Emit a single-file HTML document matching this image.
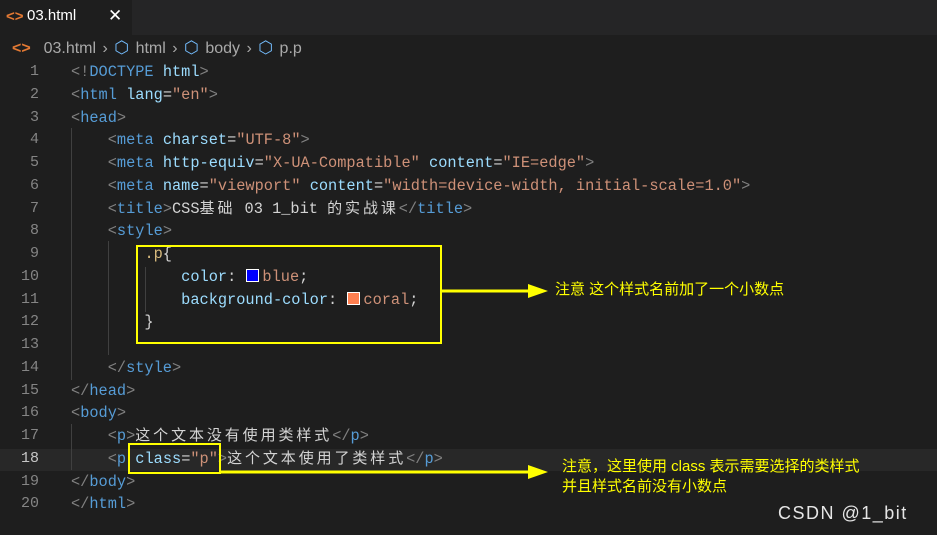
<!DOCTYPE html>
<html><head><meta charset="utf-8"><style>
body{margin:0;width:937px;height:535px;background:#1e1e1e;overflow:hidden;position:relative;font-family:"Liberation Mono","Noto Sans CJK SC",monospace;}
.tabbar{position:absolute;left:0;top:0;width:937px;height:35px;background:#252526}
.tab{position:absolute;left:0;top:0;width:132px;height:35px;background:#1e1e1e;font-family:"Liberation Sans",sans-serif;font-size:15px;color:#fff}
.crumb{position:absolute;left:12px;top:38px;font-family:"Liberation Sans",sans-serif;font-size:16px;color:#a9a9a9;line-height:20px;white-space:pre;word-spacing:2px}
.ln{position:absolute;left:0;width:39px;text-align:right;font-size:15px;color:#858585;line-height:22px}
.c{position:absolute;left:71px;font-size:15.3px;line-height:22px;white-space:pre;color:#d4d4d4}
.z{font-size:15px;letter-spacing:2.9px}
.t{color:#808080}.n{color:#569cd6}.a{color:#9cdcfe}.s{color:#ce9178}.w{color:#d4d4d4}.k{color:#d7ba7d}
.g{position:absolute;width:1px;background:#404040}
.y{position:absolute;border:2px solid #ffff00;box-sizing:border-box}
.note{position:absolute;color:#ffff00;font-family:"Liberation Sans","Noto Sans CJK SC",sans-serif;font-size:15px;line-height:20px;white-space:pre}
.sw{display:inline-block;width:11px;height:11px;border:1px solid #fff;vertical-align:-1px;margin:0 3px 0 1px}
.ic{color:#75beff;font-size:17px}
</style></head><body>
<div class="tabbar"><div class="tab"><span style="position:absolute;left:6px;top:8px;color:#e37933;font-weight:bold">&lt;&gt;</span><span style="position:absolute;left:27px;top:7px">03.html</span><span style="position:absolute;left:108px;top:6px;font-size:17px">✕</span></div></div>
<div class="crumb"><span style="color:#e37933;font-weight:bold">&lt;&gt;</span>  03.html <span>›</span> <span class="ic">⬡</span> html <span>›</span> <span class="ic">⬡</span> body <span>›</span> <span class="ic">⬡</span> p.p</div>
<div style="position:absolute;left:0;top:449px;width:937px;height:22px;background:#282828"></div>
<div class="g" style="left:71px;top:128px;height:252px"></div>
<div class="g" style="left:108px;top:241px;height:114px"></div>
<div class="g" style="left:145px;top:267px;height:45px"></div>
<div class="g" style="left:71px;top:424px;height:46px"></div>
<div class="ln" style="top:61px">1</div><div class="ln" style="top:84px">2</div><div class="ln" style="top:107px">3</div><div class="ln" style="top:129px">4</div><div class="ln" style="top:152px">5</div><div class="ln" style="top:175px">6</div><div class="ln" style="top:198px">7</div><div class="ln" style="top:220px">8</div><div class="ln" style="top:243px">9</div><div class="ln" style="top:266px">10</div><div class="ln" style="top:289px">11</div><div class="ln" style="top:311px">12</div><div class="ln" style="top:334px">13</div><div class="ln" style="top:357px">14</div><div class="ln" style="top:380px">15</div><div class="ln" style="top:402px">16</div><div class="ln" style="top:425px">17</div><div class="ln" style="top:448px;color:#c6c6c6">18</div><div class="ln" style="top:471px">19</div><div class="ln" style="top:493px">20</div>
<div class="c" style="top:61px"><span class="t">&lt;!</span><span class="n">DOCTYPE</span> <span class="a">html</span><span class="t">&gt;</span></div>
<div class="c" style="top:84px"><span class="t">&lt;</span><span class="n">html</span> <span class="a">lang</span>=<span class="s">"en"</span><span class="t">&gt;</span></div>
<div class="c" style="top:107px"><span class="t">&lt;</span><span class="n">head</span><span class="t">&gt;</span></div>
<div class="c" style="top:129px">    <span class="t">&lt;</span><span class="n">meta</span> <span class="a">charset</span>=<span class="s">"UTF-8"</span><span class="t">&gt;</span></div>
<div class="c" style="top:152px">    <span class="t">&lt;</span><span class="n">meta</span> <span class="a">http-equiv</span>=<span class="s">"X-UA-Compatible"</span> <span class="a">content</span>=<span class="s">"IE=edge"</span><span class="t">&gt;</span></div>
<div class="c" style="top:175px">    <span class="t">&lt;</span><span class="n">meta</span> <span class="a">name</span>=<span class="s">"viewport"</span> <span class="a">content</span>=<span class="s">"width=device-width, initial-scale=1.0"</span><span class="t">&gt;</span></div>
<div class="c" style="top:198px">    <span class="t">&lt;</span><span class="n">title</span><span class="t">&gt;</span>CSS<span class="z">基础</span> 03 1_bit <span class="z">的实战课</span><span class="t">&lt;/</span><span class="n">title</span><span class="t">&gt;</span></div>
<div class="c" style="top:220px">    <span class="t">&lt;</span><span class="n">style</span><span class="t">&gt;</span></div>
<div class="c" style="top:243px">        <span class="k">.p</span>{</div>
<div class="c" style="top:266px">            <span class="a">color</span>: <span class="sw" style="background:#0000ff"></span><span class="s">blue</span>;</div>
<div class="c" style="top:289px">            <span class="a">background-color</span>: <span class="sw" style="background:#ff7f50"></span><span class="s">coral</span>;</div>
<div class="c" style="top:311px">        }</div>
<div class="c" style="top:357px">    <span class="t">&lt;/</span><span class="n">style</span><span class="t">&gt;</span></div>
<div class="c" style="top:380px"><span class="t">&lt;/</span><span class="n">head</span><span class="t">&gt;</span></div>
<div class="c" style="top:402px"><span class="t">&lt;</span><span class="n">body</span><span class="t">&gt;</span></div>
<div class="c" style="top:425px">    <span class="t">&lt;</span><span class="n">p</span><span class="t">&gt;</span><span class="z">这个文本没有使用类样式</span><span class="t">&lt;/</span><span class="n">p</span><span class="t">&gt;</span></div>
<div class="c" style="top:448px">    <span class="t">&lt;</span><span class="n">p</span> <span class="a">class</span>=<span class="s">"p"</span><span class="t">&gt;</span><span class="z">这个文本使用了类样式</span><span class="t">&lt;/</span><span class="n">p</span><span class="t">&gt;</span></div>
<div class="c" style="top:471px"><span class="t">&lt;/</span><span class="n">body</span><span class="t">&gt;</span></div>
<div class="c" style="top:493px"><span class="t">&lt;/</span><span class="n">html</span><span class="t">&gt;</span></div>
<div class="y" style="left:136px;top:245px;width:306px;height:99px"></div>
<div class="y" style="left:128px;top:443px;width:93px;height:31px"></div>
<svg style="position:absolute;left:0;top:0" width="937" height="535">
<line x1="442" y1="291" x2="530" y2="291" stroke="#ffff00" stroke-width="3"/>
<polygon points="528,284 548,291 528,298" fill="#ffff00"/>
<line x1="220" y1="472" x2="530" y2="472" stroke="#ffff00" stroke-width="3"/>
<polygon points="528,465 548,472 528,479" fill="#ffff00"/>
</svg>
<div class="note" style="left:555px;top:280px">注意 这个样式名前加了一个小数点</div>
<div class="note" style="left:562px;top:457px">注意，这里使用 class 表示需要选择的类样式
并且样式名前没有小数点</div>
<div style="position:absolute;left:778px;top:503px;color:#e6e6e6;font-family:'Liberation Sans',sans-serif;font-size:18px;letter-spacing:1.5px">CSDN @1_bit</div>
</body></html>
